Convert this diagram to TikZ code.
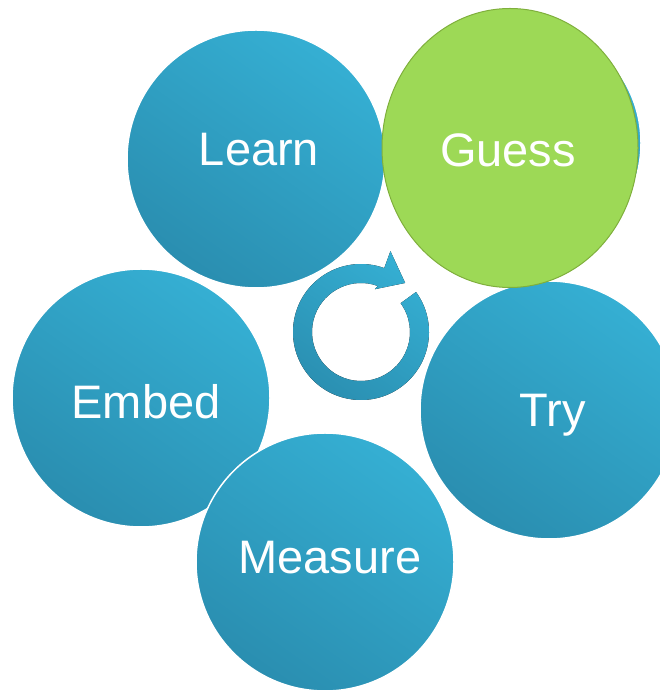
\documentclass[tikz,border=0pt]{standalone}
\usepackage{fontspec}
\setmainfont{Liberation Sans}
\usetikzlibrary{shapes.geometric}
\definecolor{bluelight}{HTML}{35AFD3}
\definecolor{bluedark}{HTML}{2A8EB0}
\definecolor{leaf}{HTML}{9DD956}
\definecolor{leafrim}{HTML}{7FAF3C}
\begin{document}
\begin{tikzpicture}[x=1pt, y=1pt,
  bubble/.style={circle, minimum size=258pt, inner sep=0pt, draw=white, line width=1.5pt,
    top color=bluelight, bottom color=bluedark, shading angle=-35},
  word/.style={text=white, font=\fontsize{47}{50}\selectfont, inner sep=0pt}]
\useasboundingbox (0,0) rectangle (660,693);
\clip (0,0) rectangle (660,693);
% circles
\node[bubble] (learn) at (256,534){};
\node[bubble] (embed) at (141,295){};
\node[bubble] (measure) at (325,131){};
\node[bubble] (try) at (549,283){};
\node[bubble, minimum size=244pt] (guessback) at (519,550){};
\node[ellipse, minimum width=256pt, minimum height=279pt, inner sep=0pt, fill=leaf,
  draw=leafrim, line width=1pt] (guess) at (510,545){};
% labels
\node[word] (learnt) at (259,543){Learn};
\node[word] (embedt) at (146,291){Embed};
\node[word] (measuret) at (330,135){Measure};
\node[word] (tryt) at (553,278){Try};
\node[word] (guesst) at (508,543){Guess};
% cycle arrow
\fill[top color=bluelight, bottom color=bluedark, shading angle=-35, shift={(361,361)}]
  (36:68) arc[start angle=36, end angle=-290, radius=68] -- (70:86) -- (48:66)
  -- (72:45) -- (70:49) arc[start angle=-290, end angle=36, radius=49] -- cycle;
\end{tikzpicture}
\end{document}
